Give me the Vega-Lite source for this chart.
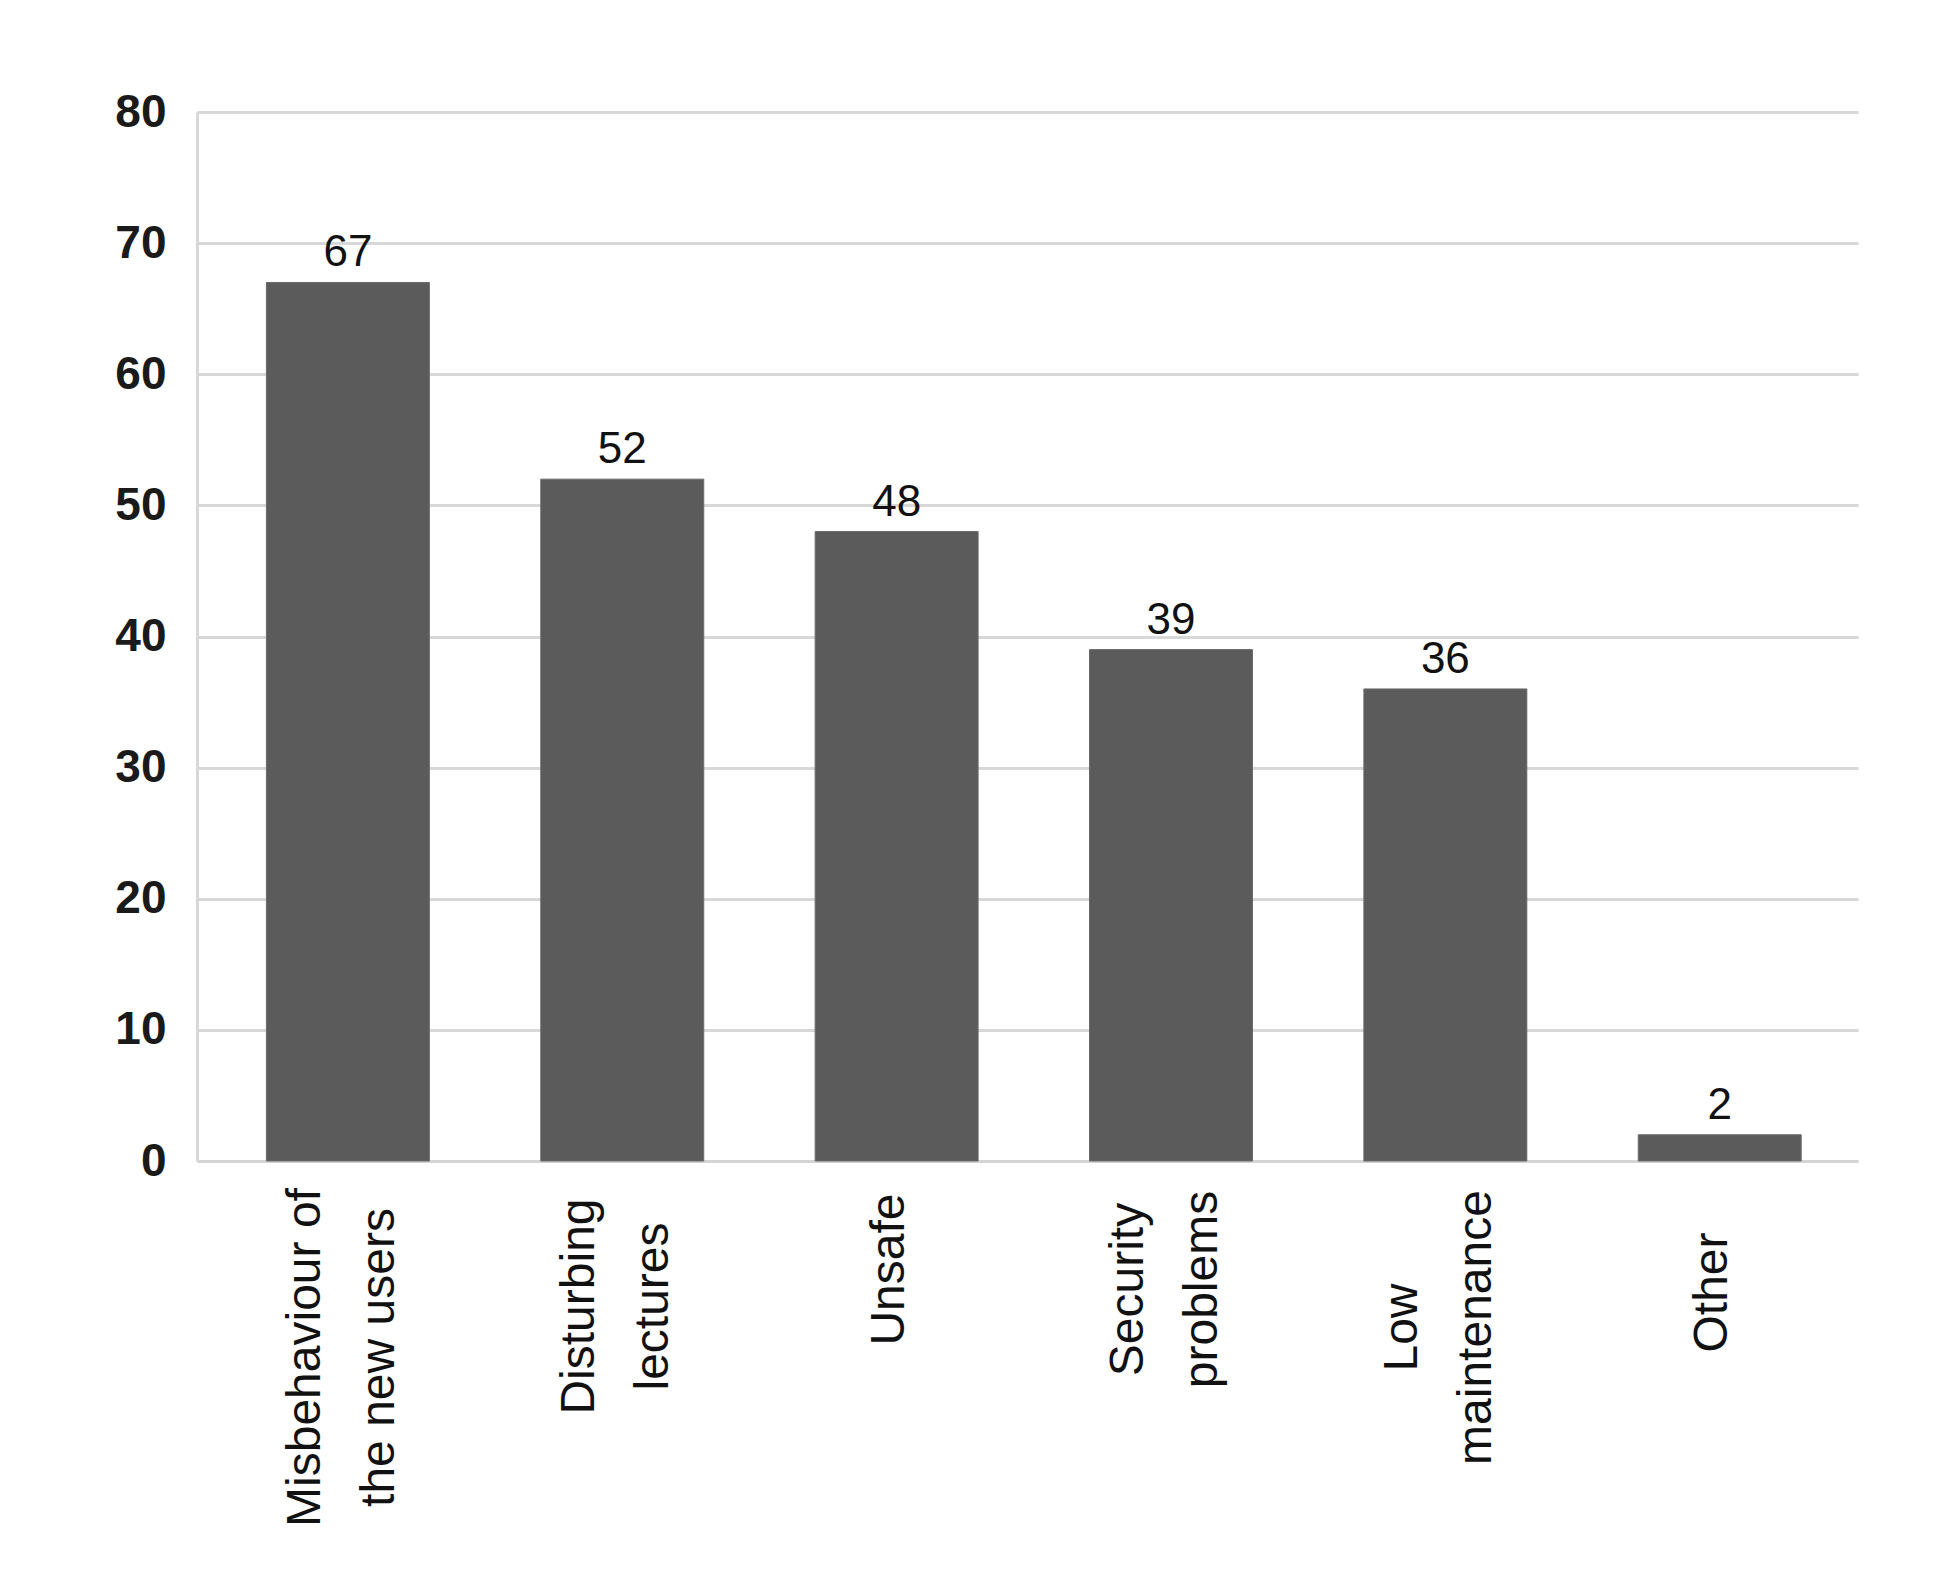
{
  "$schema": "https://vega.github.io/schema/vega-lite/v6.json",
  "autosize": "none",
  "width": 1661,
  "height": 1049,
  "padding": {"left": 197, "top": 112, "right": 96, "bottom": 426},
  "background": "white",
  "config": {
    "font": "Liberation Sans",
    "view": {"stroke": null}
  },
  "data": {
    "values": [
      {"cat": "Misbehaviour of|the new users", "value": 67},
      {"cat": "Disturbing|lectures", "value": 52},
      {"cat": "Unsafe", "value": 48},
      {"cat": "Security|problems", "value": 39},
      {"cat": "Low|maintenance", "value": 36},
      {"cat": "Other", "value": 2}
    ]
  },
  "encoding": {
    "x": {
      "field": "cat",
      "type": "nominal",
      "sort": null,
      "scale": {"paddingInner": 0.406, "paddingOuter": 0.23, "align": 0.55},
      "axis": {
        "title": null,
        "labelAngle": -90,
        "labelAlign": "center",
        "labelBaseline": "middle",
        "labelExpr": "split(datum.label, '|')",
        "labelFont": "Liberation Sans",
        "labelFontSize": 48,
        "labelLineHeight": 74,
        "labelLimit": 0,
        "labelColor": "#111111",
        "labelOffset": {"condition": {"test": "indexof(datum.value, '|') >= 0", "value": -42}, "value": -7},
        "labelPadding": {"condition": [
          {"test": "datum.value === 'Misbehaviour of|the new users'", "value": 196},
          {"test": "datum.value === 'Disturbing|lectures'", "value": 145},
          {"test": "datum.value === 'Unsafe'", "value": 108},
          {"test": "datum.value === 'Security|problems'", "value": 128},
          {"test": "datum.value === 'Low|maintenance'", "value": 166}
        ], "value": 131},
        "ticks": false,
        "domainColor": "#d4d4d4",
        "domainWidth": 3,
        "grid": false
      }
    },
    "y": {
      "field": "value",
      "type": "quantitative",
      "scale": {"domain": [0, 80], "nice": false},
      "axis": {
        "title": null,
        "values": [0, 10, 20, 30, 40, 50, 60, 70, 80],
        "labelFont": "Liberation Sans",
        "labelFontSize": 46,
        "labelFontWeight": "bold",
        "labelColor": "#1a1a1a",
        "labelPadding": 31,
        "ticks": false,
        "domain": true,
        "domainColor": "#d8d8d8",
        "domainWidth": 3,
        "grid": true,
        "gridColor": "#d8d8d8",
        "gridWidth": 3
      }
    }
  },
  "layer": [
    {
      "mark": {"type": "bar", "color": "#5b5b5b", "stroke": "#6a6a6a", "strokeWidth": 1}
    },
    {
      "mark": {"type": "text", "baseline": "alphabetic", "dy": -16, "fontSize": 44, "font": "Liberation Sans", "color": "#111111"},
      "encoding": {"text": {"field": "value", "type": "quantitative"}}
    }
  ]
}
